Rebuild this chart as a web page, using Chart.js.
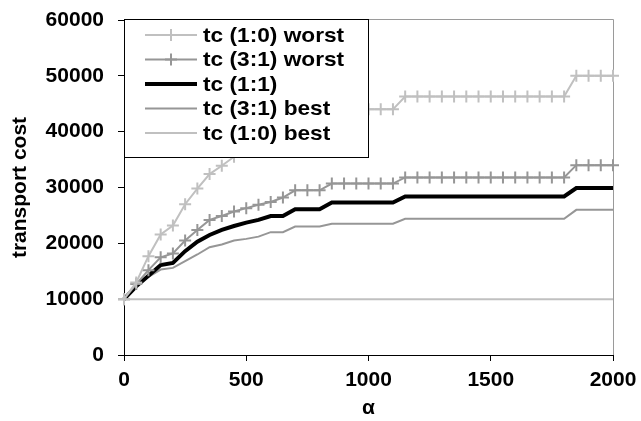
<!DOCTYPE html>
<html>
<head>
<meta charset="utf-8">
<script src="https://cdn.jsdelivr.net/npm/chart.js@4.4.1/dist/chart.umd.min.js"></script>
<style>
  html, body { margin: 0; padding: 0; background: #fff; }
</style>
</head>
<body>
<canvas id="costChart" width="641" height="421"></canvas>
<script>
// alpha values along the x axis
const alpha = [0, 50, 100, 150, 200, 250, 300, 350, 400, 450, 500, 550, 600, 650, 700, 750, 800, 850, 900, 950,
  1000, 1050, 1100, 1150, 1200, 1250, 1300, 1350, 1400, 1450, 1500, 1550, 1600, 1650, 1700, 1750, 1800, 1850, 1900, 1950, 2000];

const tc10Worst = [10000, 13000, 17700, 21600, 23200, 27000, 29800, 32400, 33900, 35500, 37000, 38300, 39300, 40200, 41000, 41700, 42300, 42900, 43300, 43700,
  44000, 44000, 44000, 46300, 46300, 46300, 46300, 46300, 46300, 46300, 46300, 46300, 46300, 46300, 46300, 46300, 46300, 50000, 50000, 50000, 50000];
const tc31Worst = [10000, 12700, 15200, 17500, 18200, 20500, 22400, 24200, 24900, 25700, 26300, 26900, 27400, 28200, 29500, 29500, 29500, 30700, 30700, 30700,
  30700, 30700, 30700, 31800, 31800, 31800, 31800, 31800, 31800, 31800, 31800, 31800, 31800, 31800, 31800, 31800, 31800, 34000, 34000, 34000, 34000];
const tc11 = [10000, 12300, 14200, 16100, 16500, 18600, 20300, 21500, 22400, 23100, 23700, 24200, 24900, 24900, 26100, 26100, 26100, 27300, 27300, 27300,
  27300, 27300, 27300, 28400, 28400, 28400, 28400, 28400, 28400, 28400, 28400, 28400, 28400, 28400, 28400, 28400, 28400, 29900, 29900, 29900, 29900];
const tc31Best = [10000, 12300, 14000, 15300, 15600, 16800, 18000, 19300, 19800, 20500, 20800, 21200, 22000, 22000, 23000, 23000, 23000, 23500, 23500, 23500,
  23500, 23500, 23500, 24400, 24400, 24400, 24400, 24400, 24400, 24400, 24400, 24400, 24400, 24400, 24400, 24400, 24400, 26000, 26000, 26000, 26000];
const tc10Best = [10000, 10000, 10000, 10000, 10000, 10000, 10000, 10000, 10000, 10000, 10000, 10000, 10000, 10000, 10000, 10000, 10000, 10000, 10000, 10000,
  10000, 10000, 10000, 10000, 10000, 10000, 10000, 10000, 10000, 10000, 10000, 10000, 10000, 10000, 10000, 10000, 10000, 10000, 10000, 10000, 10000];

const seriesLabels = ['tc (1:0) worst', 'tc (3:1) worst', 'tc (1:1)', 'tc (3:1) best', 'tc (1:0) best'];
const yTicks = [0, 10000, 20000, 30000, 40000, 50000, 60000];
const xTicks = [0, 500, 1000, 1500, 2000];

const FONT = '"Liberation Sans", Arial, sans-serif';
const LIGHT = '#c0c0c0';
const MID = '#969696';

function toPoints(ys) {
  return alpha.map((a, i) => ({ x: a, y: ys[i] }));
}

// keep the plot box where the padding puts it
function noScalePadding(s) {
  s.paddingLeft = s.paddingRight = s.paddingTop = s.paddingBottom = 0;
}

// grey top/right edges of the plot area
const plotFrame = {
  id: 'plotFrame',
  beforeDatasetsDraw(chart) {
    const { ctx, chartArea: a } = chart;
    ctx.save();
    ctx.strokeStyle = '#9a9a9a';
    ctx.lineWidth = 1;
    ctx.beginPath();
    ctx.moveTo(a.left, a.top - 0.5);
    ctx.lineTo(a.right + 0.5, a.top - 0.5);
    ctx.lineTo(a.right + 0.5, a.bottom);
    ctx.stroke();
    ctx.restore();
  }
};

// boxed legend sitting over the upper-left of the plot
const boxLegend = {
  id: 'boxLegend',
  afterDatasetsDraw(chart, args, opts) {
    const { ctx, chartArea: a } = chart;
    const x0 = a.left, y0 = a.top - 1;
    ctx.save();
    ctx.fillStyle = '#fff';
    ctx.fillRect(x0, y0, opts.width, opts.height);
    ctx.strokeStyle = '#000';
    ctx.lineWidth = 1;
    ctx.strokeRect(x0 + 0.5, y0 + 0.5, opts.width, opts.height);
    ctx.font = 'bold 21px ' + FONT;
    ctx.textBaseline = 'middle';
    chart.data.datasets.forEach((ds, i) => {
      const y = y0 + opts.firstRow + i * opts.rowGap;
      const lx = x0 + opts.lineStart;
      ctx.strokeStyle = ds.borderColor;
      ctx.lineWidth = ds.borderWidth;
      ctx.beginPath();
      ctx.moveTo(lx, y);
      ctx.lineTo(lx + opts.lineLength, y);
      ctx.stroke();
      if (ds.pointStyle === 'cross') {
        const cx = lx + opts.lineLength / 2, r = ds.pointRadius;
        ctx.lineWidth = ds.pointBorderWidth;
        ctx.beginPath();
        ctx.moveTo(cx, y - r);
        ctx.lineTo(cx, y + r);
        ctx.moveTo(cx - r, y);
        ctx.lineTo(cx + r, y);
        ctx.stroke();
      }
      ctx.save();
      ctx.translate(lx + opts.lineLength + opts.textGap, y + 1);
      ctx.scale(opts.stretch, 1);
      ctx.fillStyle = '#000';
      ctx.fillText(ds.label, 0, 0);
      ctx.restore();
    });
    ctx.restore();
  }
};

const costChart = new Chart(document.getElementById('costChart').getContext('2d'), {
  type: 'line',
  data: {
    datasets: [
      { label: seriesLabels[0], data: toPoints(tc10Worst), borderColor: LIGHT, borderWidth: 2,
        pointStyle: 'cross', pointRadius: 6, pointBorderWidth: 2, pointBorderColor: LIGHT },
      { label: seriesLabels[1], data: toPoints(tc31Worst), borderColor: MID, borderWidth: 2,
        pointStyle: 'cross', pointRadius: 6, pointBorderWidth: 2, pointBorderColor: MID },
      { label: seriesLabels[2], data: toPoints(tc11), borderColor: '#000', borderWidth: 4, pointRadius: 0 },
      { label: seriesLabels[3], data: toPoints(tc31Best), borderColor: MID, borderWidth: 2, pointRadius: 0 },
      { label: seriesLabels[4], data: toPoints(tc10Best), borderColor: LIGHT, borderWidth: 2, pointRadius: 0 }
    ]
  },
  options: {
    responsive: false,
    animation: false,
    events: [],
    clip: false,
    layout: { padding: { left: 0, right: 28, top: 20, bottom: 0 } },
    elements: { line: { tension: 0, fill: false } },
    plugins: {
      legend: { display: false },
      tooltip: { enabled: false },
      boxLegend: { width: 244, height: 138, firstRow: 16, rowGap: 24.5, lineStart: 21, lineLength: 52,
        textGap: 6, stretch: 1.08 }
    },
    scales: {
      x: {
        type: 'linear',
        min: 0,
        max: 2000,
        afterFit: s => { s.height = 66; noScalePadding(s); },
        afterBuildTicks: s => { s.ticks = xTicks.map(v => ({ value: v })); },
        border: { display: true, color: '#000', width: 1 },
        grid: { display: true, drawOnChartArea: false, drawTicks: true, tickLength: 6, color: '#000' },
        ticks: { color: '#000', padding: 7, maxRotation: 0, font: { family: FONT, size: 21, weight: 'bold' },
          callback: v => String(v) },
        title: { display: true, text: 'α', color: '#000', padding: { top: 0, bottom: 0 },
          font: { family: FONT, size: 21, weight: 'bold' } }
      },
      y: {
        type: 'linear',
        min: 0,
        max: 60000,
        afterFit: s => { s.width = 124; noScalePadding(s); },
        afterBuildTicks: s => { s.ticks = yTicks.map(v => ({ value: v })); },
        border: { display: true, color: '#000', width: 1 },
        grid: { display: true, drawOnChartArea: false, drawTicks: true, tickLength: 6, color: '#000' },
        ticks: { color: '#000', padding: 14, font: { family: FONT, size: 21, weight: 'bold' },
          callback: v => String(v) },
        title: { display: true, text: 'transport cost', color: '#000', padding: { top: 8, bottom: 0 },
          font: { family: FONT, size: 21, weight: 'bold' } }
      }
    }
  },
  plugins: [plotFrame, boxLegend]
});
</script>
</body>
</html>
